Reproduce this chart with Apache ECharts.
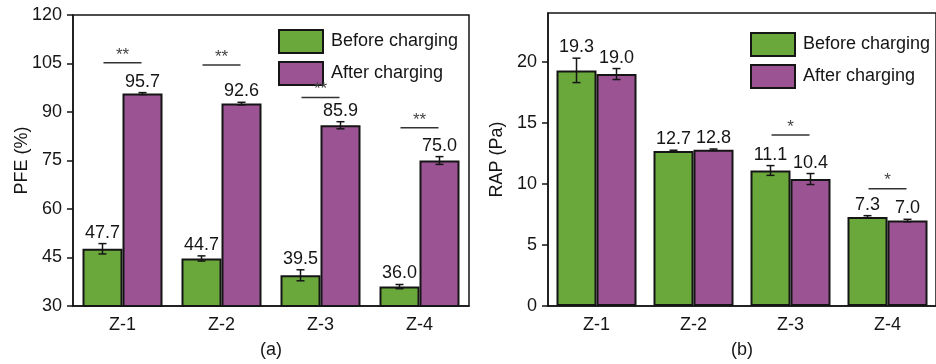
<!DOCTYPE html>
<html><head><meta charset="utf-8">
<script src="https://cdn.jsdelivr.net/npm/echarts@6/dist/echarts.min.js"></script>
<style>html,body{margin:0;padding:0;background:#fff}#c{width:936px;height:364px}</style>
</head><body><div id="c"></div>
<script>
// ---- data ----
const categories = ['Z-1', 'Z-2', 'Z-3', 'Z-4'];
const seriesNames = ['Before charging', 'After charging'];
const pfeBefore = [47.7, 44.7, 39.5, 36.0];
const pfeBeforeErr = [1.6, 0.8, 1.7, 0.65];
const pfeAfter = [95.7, 92.6, 85.9, 75.0];
const pfeAfterErr = [0.3, 0.4, 1.1, 1.2];
const rapBefore = [19.3, 12.7, 11.1, 7.3];
const rapBeforeErr = [1.0, 0.06, 0.4, 0.1];
const rapAfter = [19.0, 12.8, 10.4, 7.0];
const rapAfterErr = [0.45, 0.06, 0.45, 0.1];
const pfeSigMarks = ['**', '**', '**', '**'];
const pfeSigLevel = [105.2, 104.5, 94.5, 85.1];
const rapSigMarks = ['', '', '*', '*'];
const rapSigLevel = [null, null, 14.0, 9.6];
const pfeTicks = [30, 45, 60, 75, 90, 105, 120];
const rapTicks = [0, 5, 10, 15, 20];
const panelLabels = ['(a)', '(b)'];

// ---- style ----
const FONT = "'Liberation Sans', Arial, sans-serif";
const INK = '#151515';
const GREEN = '#6aa83c';
const PURPLE = '#9b5394';
const BAR_W = 40;

const chart = echarts.init(document.getElementById('c'), null, {renderer: 'canvas'});

function errSeries(axis, vals, errs, side) {
  return {
    type: 'custom', xAxisIndex: axis, yAxisIndex: axis, z: 5, silent: true,
    data: vals.map((v, i) => [i, v, errs[i]]),
    encode: {x: 0, y: 1},
    renderItem: function (params, api) {
      const i = api.value(0), v = api.value(1), e = api.value(2);
      const c = api.coord([i, v]);
      const x = c[0] + side * BAR_W / 2;
      const top = api.coord([i, v + e])[1];
      const bot = api.coord([i, v - e])[1];
      const cap = 4;
      const ls = {stroke: INK, lineWidth: 1.5};
      return {type: 'group', children: [
        {type: 'line', shape: {x1: x, y1: top, x2: x, y2: bot}, style: ls},
        {type: 'line', shape: {x1: x - cap, y1: top, x2: x + cap, y2: top}, style: ls},
        {type: 'line', shape: {x1: x - cap, y1: bot, x2: x + cap, y2: bot}, style: ls},
        {type: 'text', x: x, y: top - 2, style: {text: v.toFixed(1), fontSize: 18, fontFamily: FONT,
          fill: INK, align: 'center', verticalAlign: 'bottom'}}
      ]};
    }
  };
}

function sigSeries(axis, marks, levels) {
  return {
    type: 'custom', xAxisIndex: axis, yAxisIndex: axis, z: 5, silent: true,
    data: levels.map((l, i) => [i, l]).filter(d => d[1] != null),
    encode: {x: 0, y: 1},
    renderItem: function (params, api) {
      const i = api.value(0), l = api.value(1);
      const c = api.coord([i, l]);
      return {type: 'group', children: [
        {type: 'line', shape: {x1: c[0] - 19, y1: c[1], x2: c[0] + 19, y2: c[1]}, style: {stroke: '#333', lineWidth: 1.5}},
        {type: 'text', x: c[0], y: c[1] - 8, style: {text: marks[i], fontSize: 17, fontFamily: FONT,
          fill: '#444', align: 'center', verticalAlign: 'middle'}}
      ]};
    }
  };
}

function barSeries(axis, name, vals, color) {
  return {
    type: 'bar', name: name, xAxisIndex: axis, yAxisIndex: axis,
    data: vals, barWidth: BAR_W, barGap: '0%',
    itemStyle: {color: color, borderColor: INK, borderWidth: 2}
  };
}

function xAx(grid, name) {
  return {
    type: 'category', gridIndex: grid, data: categories,
    axisLine: {lineStyle: {color: INK, width: 1.5}},
    axisTick: {alignWithLabel: true, length: 5, lineStyle: {color: INK, width: 1.5}},
    axisLabel: {fontSize: 18, fontFamily: FONT, color: INK, margin: 10},
    name: name, nameLocation: 'middle', nameGap: 35, nameMoveOverlap: false,
    nameTextStyle: {fontSize: 18, fontFamily: FONT, color: INK}
  };
}

function yAx(grid, name, min, max, interval, ticks) {
  return {
    type: 'value', gridIndex: grid, min: min, max: max, interval: interval,
    axisLine: {show: true, lineStyle: {color: INK, width: 1.5}},
    axisTick: {show: true, length: 6, customValues: ticks, lineStyle: {color: INK, width: 1.5}},
    axisLabel: {fontSize: 18, fontFamily: FONT, color: INK, margin: 11, customValues: ticks},
    splitLine: {show: false},
    name: name, nameLocation: 'middle', nameGap: 42, nameMoveOverlap: false,
    nameTextStyle: {fontSize: 18, fontFamily: FONT, color: INK}
  };
}

const legendBase = {
  orient: 'vertical', icon: 'rect', itemWidth: 44, itemHeight: 23, itemGap: 7,
  textStyle: {fontSize: 18, fontFamily: FONT, color: INK, padding: [0, 0, 0, 3]},
  data: seriesNames, selectedMode: false
};

chart.setOption({
  animation: false,
  backgroundColor: '#fff',
  grid: [
    {left: 73, top: 15, width: 396, height: 293, show: true, borderColor: INK, borderWidth: 1.5, backgroundColor: 'transparent'},
    {left: 548, top: 13, width: 396, height: 294, show: true, borderColor: INK, borderWidth: 1.5, backgroundColor: 'transparent'}
  ],
  legend: [
    Object.assign({}, legendBase, {left: 273, top: 24}),
    Object.assign({}, legendBase, {left: 745, top: 27})
  ],
  xAxis: [xAx(0, panelLabels[0]), xAx(1, panelLabels[1])],
  yAxis: [
    yAx(0, 'PFE (%)', 30, 120, 15, pfeTicks),
    yAx(1, 'RAP (Pa)', 0, 24, 5, rapTicks)
  ],
  series: [
    barSeries(0, seriesNames[0], pfeBefore, GREEN),
    barSeries(0, seriesNames[1], pfeAfter, PURPLE),
    barSeries(1, seriesNames[0], rapBefore, GREEN),
    barSeries(1, seriesNames[1], rapAfter, PURPLE),
    errSeries(0, pfeBefore, pfeBeforeErr, -1),
    errSeries(0, pfeAfter, pfeAfterErr, 1),
    errSeries(1, rapBefore, rapBeforeErr, -1),
    errSeries(1, rapAfter, rapAfterErr, 1),
    sigSeries(0, pfeSigMarks, pfeSigLevel),
    sigSeries(1, rapSigMarks, rapSigLevel)
  ]
});
</script></body></html>
